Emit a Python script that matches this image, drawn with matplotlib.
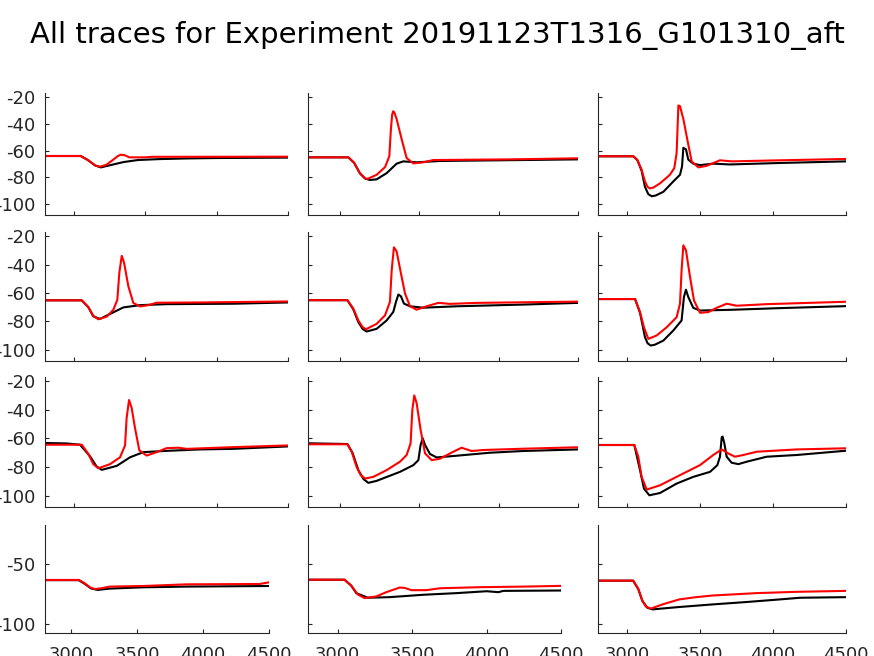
import matplotlib
matplotlib.use("Agg")
import matplotlib.pyplot as plt

plt.rcParams['axes.unicode_minus'] = False
plt.rcParams['font.family'] = 'DejaVu Sans'

title = "All traces for Experiment 20191123T1316_G101310_aft"

# traces: time (x) and voltage (y), black = model, red = data
p1_black_t = [2800, 3050, 3100, 3150, 3190, 3250, 3350, 3450, 3600, 3800, 4000, 4500]
p1_black_v = [-64, -64, -67, -71, -72.5, -71, -68.5, -67, -66.3, -65.8, -65.5, -65.2]
p1_red_t = [2800, 3050, 3100, 3150, 3185, 3230, 3280, 3310, 3330, 3360, 3390, 3500, 3550, 4500]
p1_red_v = [-64, -64, -67, -71, -72, -70.5, -66.5, -64, -63, -63.5, -65, -65, -64.6, -64.5]

p2_black_t = [2800, 3054, 3090, 3127, 3159, 3190, 3232, 3295, 3358, 3400, 3484, 3631, 4156, 4500]
p2_black_v = [-65, -65, -69, -77, -80.8, -81.9, -81.4, -76.8, -69.7, -68, -68.7, -67.7, -67, -66.5]
p2_red_t = [2800, 3054, 3090, 3127, 3159, 3174, 3232, 3285, 3312, 3322, 3330, 3337, 3345, 3358,
            3390, 3421, 3463, 3526, 3589, 4072, 4500]
p2_red_v = [-65, -65, -69, -76.8, -80.6, -81.1, -78, -72.3, -64.2, -44, -33, -30.6, -32, -36.4,
            -51.6, -65.5, -69.5, -68.7, -67, -66.5, -65.7]

p3_black_t = [2800, 3042, 3070, 3099, 3122, 3145, 3168, 3195, 3248, 3316, 3362, 3376, 3385, 3403,
              3419, 3453, 3499, 3591, 3705, 4047, 4500]
p3_black_v = [-64.2, -64.2, -67, -75, -87, -92.5, -94, -93.5, -90.7, -83, -78, -71.8, -57.9, -59,
              -66.7, -69.7, -70.8, -69.7, -70.3, -69.2, -68]
p3_red_t = [2800, 3042, 3070, 3099, 3122, 3140, 3156, 3180, 3225, 3293, 3323, 3339, 3351, 3362,
            3385, 3412, 3442, 3488, 3545, 3636, 3716, 4047, 4500]
p3_red_v = [-64.2, -64.2, -67, -74.3, -83, -87, -88.2, -87.5, -84.4, -78, -73, -61.7, -26.3, -26.8,
            -36.4, -51.6, -68, -72.5, -71.3, -67.2, -68, -67.2, -66.2]

p4_black_t = [2800, 3057, 3103, 3138, 3185, 3255, 3348, 3465, 3651, 4118, 4500]
p4_black_v = [-65.2, -65.2, -70, -76.5, -78.3, -74.8, -70.2, -68.6, -67.9, -67.6, -66.7]
p4_red_t = [2800, 3057, 3103, 3138, 3173, 3232, 3278, 3306, 3320, 3337, 3353, 3383, 3418, 3465,
            3523, 3581, 3885, 4500]
p4_red_v = [-65.2, -65.2, -70, -76.2, -78.6, -76.7, -71.9, -64.8, -45.7, -33.8, -38.6, -55.2, -67.1,
            -69.5, -68.6, -66.9, -66.7, -66]

p5_black_t = [2800, 3048, 3085, 3117, 3145, 3169, 3232, 3295, 3337, 3354, 3369, 3385, 3404, 3442,
              3526, 3736, 4156, 4500]
p5_black_v = [-65.1, -65.1, -71.5, -80.6, -85.5, -87.2, -85.3, -79.4, -73.4, -66.3, -61.1, -62.3,
              -67.5, -69.4, -70.4, -69.4, -68.2, -67]
p5_red_t = [2800, 3048, 3085, 3117, 3144, 3165, 3232, 3285, 3316, 3327, 3341, 3358, 3385, 3411,
            3442, 3484, 3547, 3621, 3694, 3862, 4500]
p5_red_v = [-65.1, -65.1, -71, -79.4, -84.1, -85.6, -81.8, -75.8, -66.3, -43.8, -27.8, -30.7, -46.1,
            -60.4, -69.4, -71.8, -69.4, -67, -67.7, -67, -66.1]

p6_black_t = [2800, 3054, 3088, 3122, 3140, 3161, 3190, 3248, 3316, 3373, 3389, 3403, 3419, 3453,
              3499, 3705, 4047, 4500]
p6_black_v = [-64.3, -64.3, -74, -91.2, -95.5, -97.1, -96.5, -93.6, -86.5, -79.4, -62.9, -57.7,
              -62.9, -70.5, -72.4, -71.9, -70.7, -69.3]
p6_red_t = [2800, 3054, 3088, 3115, 3145, 3202, 3271, 3339, 3362, 3373, 3385, 3403, 3431, 3458,
            3499, 3556, 3613, 3682, 3750, 3956, 4500]
p6_red_v = [-64.3, -64.3, -73.5, -84.2, -92.4, -90, -84.2, -77.1, -67.6, -44, -26.4, -29.9, -48.8,
            -65.3, -74, -73.5, -70.5, -67.6, -69, -67.9, -66.2]

p7_black_t = [2800, 2950, 3045, 3115, 3160, 3197, 3302, 3395, 3488, 3651, 3885, 4118, 4500]
p7_black_v = [-63.2, -63.5, -64.4, -72.5, -79.5, -82, -79.2, -73.2, -69.6, -68.7, -67.7, -67.3, -65.6]
p7_red_t = [2800, 3057, 3103, 3138, 3173, 3255, 3325, 3360, 3371, 3388, 3406, 3430, 3460, 3511,
            3581, 3651, 3733, 3791, 4118, 4500]
p7_red_v = [-64.4, -64.4, -70.8, -78, -80.9, -78, -73.2, -64.9, -45.8, -33.1, -38.6, -52.9, -68.4,
            -72, -69.6, -66.8, -66.5, -67.3, -66.1, -64.9]

p8_black_t = [2800, 3048, 3080, 3117, 3150, 3180, 3232, 3379, 3463, 3495, 3509, 3522, 3537, 3568,
              3610, 3736, 3946, 4156, 4500]
p8_black_v = [-63.4, -63.9, -70, -82.2, -88.5, -91.1, -89.7, -83.4, -78.7, -75.2, -64.6, -59.9,
              -64.6, -70.9, -73.3, -72.1, -70, -68.8, -67.7]
p8_red_t = [2800, 3048, 3075, 3106, 3132, 3159, 3211, 3295, 3379, 3421, 3446, 3457, 3469, 3484,
            3509, 3537, 3579, 3631, 3715, 3767, 3830, 3904, 4156, 4500]
p8_red_v = [-64.1, -64.1, -69.3, -79.9, -85.7, -88.1, -86.9, -82.2, -76.3, -71.6, -63.4, -40, -29.9,
            -35.3, -54, -70.5, -75.2, -74.2, -69.3, -66.5, -68.8, -68.1, -67.2, -66.2]

p9_black_t = [2800, 3049, 3088, 3115, 3152, 3225, 3339, 3453, 3568, 3618, 3636, 3648, 3654, 3666,
              3682, 3716, 3762, 3819, 3956, 4162, 4500]
p9_black_v = [-64.6, -64.6, -82.2, -95.1, -99.8, -98.2, -91.6, -86.9, -83.4, -78.7, -72.8, -59.2,
              -58.7, -63.4, -72.8, -77, -78, -76.3, -72.8, -71.6, -68.6]
p9_red_t = [2800, 3049, 3076, 3099, 3134, 3225, 3362, 3499, 3590, 3648, 3693, 3739, 3796, 3888,
            4162, 4500]
p9_red_v = [-64.6, -64.6, -72.8, -86.9, -95.8, -92.8, -85.7, -78.7, -71.6, -67.7, -70.5, -72.8,
            -71.6, -69.3, -67.7, -66.9]

p10_black_t = [2800, 3056, 3100, 3150, 3200, 3291, 3544, 3873, 4500]
p10_black_v = [-63.5, -63.5, -66.5, -70.5, -71.7, -70.6, -69.5, -68.9, -68.4]
p10_red_t = [2800, 3056, 3100, 3140, 3177, 3228, 3291, 3544, 3873, 4429, 4500]
p10_red_v = [-63.3, -63.3, -66, -69.5, -71, -70.3, -68.9, -68.4, -67, -66.7, -65.3]

p11_black_t = [2800, 3045, 3090, 3124, 3202, 3348, 3573, 3798, 4001, 4079, 4113, 4500]
p11_black_v = [-63.1, -63.1, -68, -74.4, -78.3, -77.8, -75.8, -74.4, -72.8, -73.6, -72.5, -72.2]
p11_red_t = [2800, 3045, 3090, 3135, 3180, 3259, 3326, 3416, 3450, 3495, 3596, 3686, 3956, 4248, 4500]
p11_red_v = [-63.1, -63.1, -68, -75.6, -78.6, -77.2, -73.6, -69.7, -70, -71.9, -71.9, -70.3, -69.4,
             -68.9, -68.3]

p12_black_t = [2800, 3041, 3076, 3104, 3138, 3173, 3357, 3587, 3817, 4047, 4185, 4500]
p12_black_v = [-63.9, -63.9, -71, -81, -86.7, -88.1, -86.1, -83.9, -81.9, -79.7, -78.3, -77.8]
p12_red_t = [2800, 3041, 3076, 3104, 3127, 3161, 3242, 3357, 3472, 3587, 3886, 4162, 4500]
p12_red_v = [-63.9, -63.9, -70.8, -80.6, -85.6, -87.5, -83.9, -79.7, -77.8, -76.4, -74.4, -73.3, -72.5]

panels = [
    (p1_black_t, p1_black_v, p1_red_t, p1_red_v),
    (p2_black_t, p2_black_v, p2_red_t, p2_red_v),
    (p3_black_t, p3_black_v, p3_red_t, p3_red_v),
    (p4_black_t, p4_black_v, p4_red_t, p4_red_v),
    (p5_black_t, p5_black_v, p5_red_t, p5_red_v),
    (p6_black_t, p6_black_v, p6_red_t, p6_red_v),
    (p7_black_t, p7_black_v, p7_red_t, p7_red_v),
    (p8_black_t, p8_black_v, p8_red_t, p8_red_v),
    (p9_black_t, p9_black_v, p9_red_t, p9_red_v),
    (p10_black_t, p10_black_v, p10_red_t, p10_red_v),
    (p11_black_t, p11_black_v, p11_red_t, p11_red_v),
    (p12_black_t, p12_black_v, p12_red_t, p12_red_v),
]

x_ticks = [3000, 3500, 4000, 4500]
y_ticks_top = [-100, -80, -60, -40, -20]
y_ticks_bottom = [-100, -50]

W, H = 874, 656
fig = plt.figure(figsize=(W / 100, H / 100), dpi=100)

# axes boxes in pixels (top, bottom) per row and (left, right) per column
rows = [(93, 215), (232, 361), (377, 507), (525, 633)]
cols = [(45, 288), (308, 578), (598, 846)]
cols_bottom = [(45, 269), (308, 561), (598, 846)]
dark = '#262626'

for k, (bt, bv, rt, rv) in enumerate(panels):
    r, c = divmod(k, 3)
    top, bot = rows[r]
    left, right = (cols_bottom if r == 3 else cols)[c]
    ax = fig.add_axes([left / W, 1 - bot / H, (right - left) / W, (bot - top) / H])
    ax.plot(bt, bv, color='black', lw=1.5)
    ax.plot(rt, rv, color='red', lw=1.5)
    ax.set_xlim(2800, 4500)
    ax.set_ylim(-108, -17)
    ax.set_xticks(x_ticks)
    ax.set_yticks(y_ticks_bottom if r == 3 else y_ticks_top)
    for s in ['top', 'right']:
        ax.spines[s].set_visible(False)
    for s in ['left', 'bottom']:
        ax.spines[s].set_color(dark)
        ax.spines[s].set_linewidth(0.8)
    ax.tick_params(direction='in', length=3, width=0.8, color=dark,
                   labelsize=13, labelcolor=dark)
    ax.tick_params(axis='y', pad=7)
    ax.tick_params(axis='x', pad=9)
    if c != 0:
        ax.set_yticklabels([])
    if r != 3:
        ax.set_xticklabels([])

fig.text(0.5, 1 - 35 / H, title, ha='center', va='center', fontsize=21, color='black')

fig.savefig('out.png', dpi=100)
